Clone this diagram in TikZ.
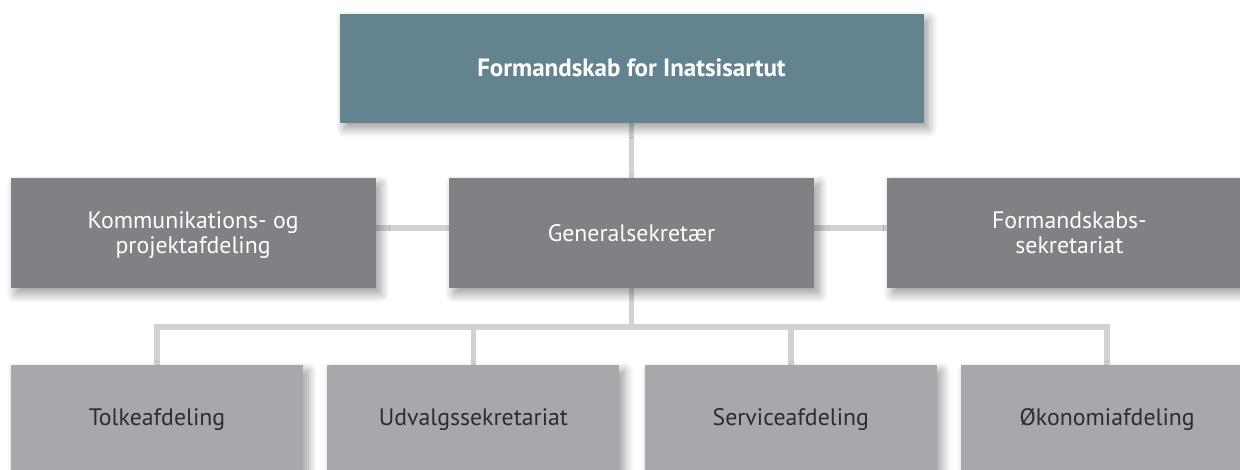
\documentclass[tikz,border=0pt]{standalone}
\usepackage{fontspec}
\setmainfont{PT Sans}
\usepackage{tikz}
\usetikzlibrary{positioning,shadows,shadows.blur,backgrounds}
\usepackage{xcolor}
\definecolor{orgteal}{RGB}{99,131,142}
\definecolor{orgmid}{RGB}{128,129,133}
\definecolor{orglow}{RGB}{167,168,172}
\definecolor{orglink}{RGB}{209,210,212}
\definecolor{orgtext}{RGB}{45,45,48}
\tikzstyle{link} = [line width=5.5pt, color=orglink]
\tikzstyle{unit} = [rectangle, minimum height=110pt, text centered, align=center, inner sep=0pt, text depth=0pt,
  font=\fontsize{23.8}{25}\selectfont,
  blur shadow={shadow xshift=5pt, shadow yshift=-6pt, shadow blur radius=9pt, shadow blur steps=12, shadow opacity=40}]
\tikzstyle{headunit} = [unit, fill=orgteal, text=white, minimum width=584pt, minimum height=109pt, font=\fontsize{25}{27}\selectfont\bfseries]
\tikzstyle{midunit} = [unit, fill=orgmid, text=white, minimum width=365pt]
\tikzstyle{lowunit} = [unit, fill=orglow, text=orgtext, minimum width=292pt, minimum height=105pt]

\begin{document}
\begin{tikzpicture}[x=1pt, y=1pt, node distance=24pt]
\useasboundingbox (0,0) rectangle (1240,470);
\clip (0,0) rectangle (1240,470);

% Middle row
\node (gen) [midunit] at (631.5,237) {Generalsekretær};
\node (komm) [midunit, left=73pt of gen] {Kommunikations- og\\projektafdeling};
\node (fsek) [midunit, right=73pt of gen, minimum width=364pt] {Formandskabs-\\sekretariat};

% Top
\node (head) [headunit, above=55pt of gen] {Formandskab for Inatsisartut};

% Bottom row
\node (tolk) [lowunit] at (157,52.5) {Tolkeafdeling};
\node (udv) [lowunit, right=of tolk] {Udvalgssekretariat};
\node (serv) [lowunit, right=25pt of udv] {Serviceafdeling};
\node (okon) [lowunit, right=of serv] {Økonomiafdeling};

\coordinate (bus) at (631.5,143);

% Lines behind the boxes
\begin{pgfonlayer}{background}
\draw[link] (head.south) -- (gen.north);
\draw[link] ([yshift=5pt]komm.east) -- ([yshift=5pt]fsek.west);
\draw[link] (gen.south) -- (bus);
\draw[link] (tolk.north) |- (bus) -| (okon.north);
\draw[link] (udv.north) -- (udv.north |- bus);
\draw[link] (serv.north) -- (serv.north |- bus);
\end{pgfonlayer}
\end{tikzpicture}
\end{document}
